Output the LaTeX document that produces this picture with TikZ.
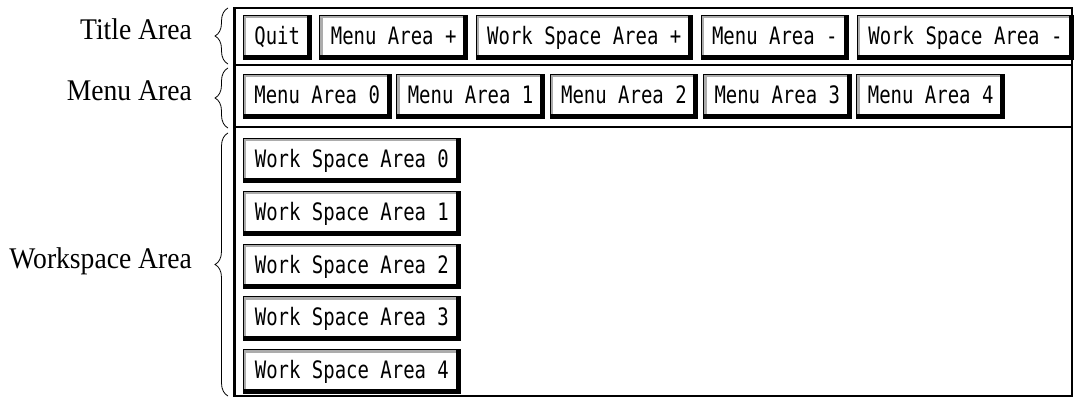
\documentclass[tikz,border=0pt]{standalone}
\usepackage{fontspec}
\setmainfont{Liberation Serif}
\newfontfamily\btnfont[FakeStretch=0.79]{DejaVu Sans Mono}
\newfontfamily\lblfont[FakeStretch=0.92]{Liberation Serif}
\usetikzlibrary{positioning,decorations.pathreplacing}
\tikzset{
  btn/.style={draw=black,line width=0.8pt,fill=white,inner xsep=11pt,inner ysep=0pt,
              minimum height=44pt,text height=17pt,text depth=3pt,anchor=north west,
              font=\btnfont\fontsize{24}{26}\selectfont,
              path picture={
                \draw[gray!65,line width=3pt]
                  ([xshift=1.5pt]path picture bounding box.south west)
                  -- ([xshift=1.5pt,yshift=-1.5pt]path picture bounding box.north west)
                  -- ([yshift=-1.5pt]path picture bounding box.north east);
                \draw[black,line width=4.5pt]
                  ([yshift=2.2pt]path picture bounding box.south west)
                  -- ([xshift=-2.2pt,yshift=2.2pt]path picture bounding box.south east)
                  -- ([xshift=-2.2pt]path picture bounding box.north east);
              }},
  wsbtn/.style={btn,minimum width=217pt},
  lbl/.style={font=\lblfont\fontsize{30}{33}\selectfont,anchor=base east,inner sep=0pt},
  brc/.style={decorate,decoration={brace,amplitude=13pt},line width=0.8pt},
}
\begin{document}
\begin{tikzpicture}[x=1pt,y=-1pt,node distance=8pt]
  \useasboundingbox (0,0) rectangle (1076,398);

  % frame and area dividers
  \coordinate (fnw) at (234,8);
  \coordinate (fse) at (1072,396);
  \draw[line width=1.5pt] (fnw) rectangle (fse);
  \draw[line width=3pt] (fnw) -- (234,396);
  \draw[line width=2pt] (234,65) -- (1072,65);
  \draw[line width=2pt] (234,127) -- (1072,127);

  % title area
  \node[btn] (t0) at (243,15) {Quit};
  \node[btn,right=of t0] (t1) {Menu Area +};
  \node[btn,right=of t1] (t2) {Work Space Area +};
  \node[btn,right=of t2] (t3) {Menu Area -};
  \node[btn,right=of t3] (t4) {Work Space Area -};

  % menu area
  \node[btn] (m0) at (243,74) {Menu Area 0};
  \node[btn,right=5pt of m0] (m1) {Menu Area 1};
  \node[btn,right=5pt of m1] (m2) {Menu Area 2};
  \node[btn,right=5pt of m2] (m3) {Menu Area 3};
  \node[btn,right=5pt of m3] (m4) {Menu Area 4};

  % workspace area
  \node[wsbtn] (w0) at (243,138) {Work Space Area 0};
  \node[wsbtn,below=of w0] (w1) {Work Space Area 1};
  \node[wsbtn,below=of w1] (w2) {Work Space Area 2};
  \node[wsbtn,below=of w2] (w3) {Work Space Area 3};
  \node[wsbtn,below=of w3] (w4) {Work Space Area 4};

  % labels and braces
  \node[lbl] (tlbl) at (192,40) {Title Area};
  \node[lbl] (mlbl) at (192,101) {Menu Area};
  \node[lbl] (wlbl) at (192,268) {Workspace Area};

  \coordinate (tb1) at (228,64);  \coordinate (tb2) at (228,8);
  \coordinate (mb1) at (228,128); \coordinate (mb2) at (228,68);
  \coordinate (wb1) at (228,396); \coordinate (wb2) at (228,133);
  \draw[brc] (tb1) -- (tb2);
  \draw[brc] (mb1) -- (mb2);
  \draw[brc] (wb1) -- (wb2);
\end{tikzpicture}
\end{document}
